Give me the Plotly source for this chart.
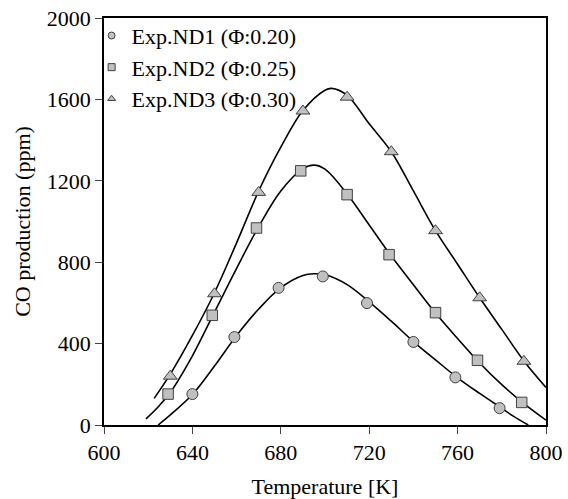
import plotly.graph_objects as go

# Experimental points
nd1_x = [640, 659, 679, 699, 719, 740, 759, 779]
nd1_y = [152, 432, 674, 730, 599, 408, 234, 83]

nd2_x = [629, 649, 669, 689, 710, 729, 750, 769, 789]
nd2_y = [152, 539, 968, 1249, 1132, 837, 552, 318, 111]

nd3_x = [630, 650, 670, 690, 710, 730, 750, 770, 790]
nd3_y = [240, 645, 1143, 1543, 1611, 1343, 955, 625, 313]

# Fitted curves
c1_x = [624.5, 630, 640, 650, 660, 670, 680, 690, 695, 700, 710, 720, 730, 740, 750, 760, 770, 780, 785, 792]
c1_y = [0, 50, 150, 290, 440, 570, 675, 735, 743, 738, 690, 605, 510, 410, 320, 232, 155, 82, 45, 0]

c2_x = [619, 625, 630, 640, 650, 660, 670, 680, 690, 695, 700, 710, 720, 730, 740, 750, 760, 770, 780, 790, 800]
c2_y = [30, 95, 160, 340, 555, 770, 975, 1150, 1260, 1277, 1257, 1135, 983, 830, 689, 550, 425, 305, 198, 105, 24]

c3_x = [622.7, 630, 640, 650, 660, 670, 680, 690, 700, 703, 710, 720, 730, 740, 750, 760, 770, 780, 790, 800]
c3_y = [131, 250, 440, 650, 895, 1150, 1365, 1545, 1645, 1654, 1620, 1480, 1343, 1150, 955, 790, 625, 470, 315, 185]

labels = ["Exp.ND1 (Φ:0.20)", "Exp.ND2 (Φ:0.25)", "Exp.ND3 (Φ:0.30)"]
symbols = ["circle", "square", "triangle-up"]
sizes = [11, 10.5, 12]

x_ticks = [600, 640, 680, 720, 760, 800]
y_ticks = [0, 400, 800, 1200, 1600, 2000]

FONT = "Liberation Serif"
FS = 22
fill = "#c0c0c0"
edge = "#404040"

fig = go.Figure()

for cx, cy in [(c1_x, c1_y), (c2_x, c2_y), (c3_x, c3_y)]:
    fig.add_trace(go.Scatter(x=cx, y=cy, mode="lines",
                             line=dict(color="black", width=1.6, shape="spline", smoothing=1.0),
                             showlegend=False, hoverinfo="skip"))

for (px, py), sym, sz in zip([(nd1_x, nd1_y), (nd2_x, nd2_y), (nd3_x, nd3_y)], symbols, sizes):
    fig.add_trace(go.Scatter(x=px, y=py, mode="markers",
                             marker=dict(symbol=sym, size=sz,
                                         color=fill, line=dict(color=edge, width=1)),
                             showlegend=False))

for lab, sym in zip(labels, symbols):
    fig.add_trace(go.Scatter(x=[None], y=[None], mode="markers", name=lab,
                             marker=dict(symbol=sym, size=7, color=fill, line=dict(color=edge, width=1))))

fig.update_layout(
    width=568, height=499,
    margin=dict(l=104, r=22, t=18, b=74, autoexpand=False),
    paper_bgcolor="white", plot_bgcolor="white",
    font=dict(family=FONT, size=FS, color="black"),
    showlegend=True,
    legend=dict(x=-0.028, y=1.008, xanchor="left", yanchor="top",
                bgcolor="rgba(0,0,0,0)", borderwidth=0,
                font=dict(family=FONT, size=FS), itemwidth=30,
                tracegroupgap=0),
    xaxis=dict(range=[600, 800], tickvals=x_ticks, ticks="outside", ticklen=7,
               tickwidth=1.3, showline=True, linecolor="black", linewidth=1.5,
               mirror=True, showgrid=False, zeroline=False, automargin=False,
               tickfont=dict(family=FONT, size=FS),
               title=dict(text="Temperature [K]", font=dict(family=FONT, size=FS), standoff=18)),
    yaxis=dict(range=[0, 2000], tickvals=y_ticks, ticks="outside", ticklen=7,
               tickwidth=1.3, showline=True, linecolor="black", linewidth=1.5,
               mirror=True, showgrid=False, zeroline=False, automargin=False,
               tickfont=dict(family=FONT, size=FS),
               title=dict(text="CO production (ppm)", font=dict(family=FONT, size=FS), standoff=10)),
)

fig.write_html("out.html")
